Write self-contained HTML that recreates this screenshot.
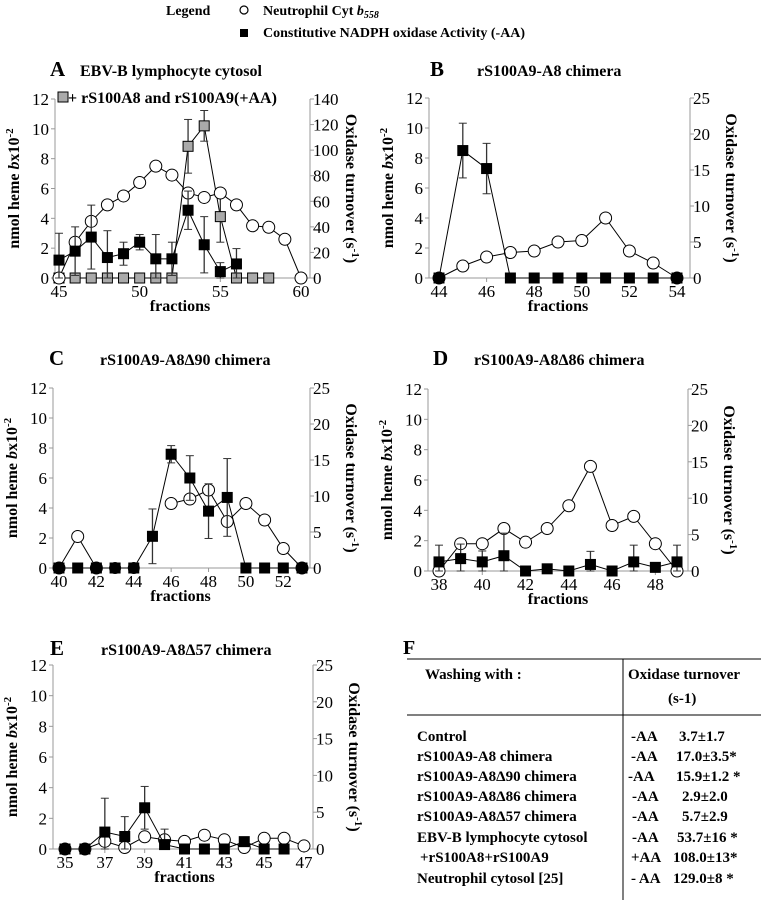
<!DOCTYPE html>
<html><head><meta charset="utf-8">
<style>
html,body{margin:0;padding:0;background:#fff;}
svg, svg text{font-family:"Liberation Serif","Times New Roman",serif;}
</style></head>
<body>
<svg id="fig" width="761" height="904" viewBox="0 0 761 904" font-family="Liberation Serif, serif">
<g>
<text x="166" y="15" font-size="14" font-weight="bold">Legend</text>
<circle cx="244" cy="10" r="4" fill="#fff" stroke="#000" stroke-width="1.2"/>
<text x="263" y="15" font-size="14" font-weight="bold">Neutrophil Cyt <tspan font-style="italic">b</tspan><tspan font-size="10" dy="3" font-style="italic">558</tspan></text>
<rect x="240" y="29" width="8" height="8" fill="#000"/>
<text x="263" y="37" font-size="14" font-weight="bold">Constitutive NADPH oxidase Activity  (-AA)</text>
</g>
<g font-size="15" font-weight="bold">
<text x="403" y="654" font-size="20">F</text>
<line x1="407" y1="659" x2="761" y2="659" stroke="#000" stroke-width="1"/>
<line x1="407" y1="715" x2="761" y2="715" stroke="#000" stroke-width="1"/>
<line x1="623" y1="659" x2="623" y2="900" stroke="#000" stroke-width="1"/>
<text x="425" y="679">Washing with :</text>
<text x="628" y="679">Oxidase turnover</text>
<text x="668" y="703">(s-1)</text>
<g>
<text x="417" y="741">Control</text>
<text x="417" y="761">rS100A9-A8 chimera</text>
<text x="417" y="781">rS100A9-A8Δ90 chimera</text>
<text x="417" y="801">rS100A9-A8Δ86 chimera</text>
<text x="417" y="821">rS100A9-A8Δ57 chimera</text>
<text x="417" y="842">EBV-B lymphocyte  cytosol</text>
<text x="420" y="862">+rS100A8+rS100A9</text>
<text x="417" y="883">Neutrophil cytosol [25]</text>
</g>
<g>
<text x="631" y="741">-AA</text><text x="679" y="741">3.7±1.7</text>
<text x="631" y="761">-AA</text><text x="676" y="761">17.0±3.5*</text>
<text x="628" y="781">-AA</text><text x="676" y="781">15.9±1.2 *</text>
<text x="632" y="801">-AA</text><text x="682" y="801">2.9±2.0</text>
<text x="632" y="821">-AA</text><text x="682" y="821">5.7±2.9</text>
<text x="632" y="842">-AA</text><text x="677" y="842">53.7±16 *</text>
<text x="631" y="862">+AA</text><text x="673" y="862">108.0±13*</text>
<text x="631" y="883">- AA</text><text x="673" y="883">129.0±8 *</text>
</g>
</g>
</svg>
<script>
// Panel A
const aFrac = [45,46,47,48,49,50,51,52,53,54,55,56,57,58,59,60];
const aCyt = [0,2.4,3.8,4.9,5.5,6.4,7.5,6.9,5.7,5.4,5.7,4.9,3.5,3.4,2.6,0];
const aSqFrac = [45,46,47,48,49,50,51,52,53,54,55,56];
const aSq = [14,21,32,16,19,28,15,15,53,26,5,11];
const aSqErr = [21,19,25,21,9,6,19,13,15,22,7,12];
const aGrayFrac = [45,46,47,48,49,50,51,52,53,54,55,56,57,58];
const aGray = [0,0,0,0,0,0,0,0,103,119,48,0,0,0];
const aGrayErr = [0,0,0,0,0,0,0,0,21,12,20,0,0,0];
const aXTicks = [45,50,55,60];
const aRTicks = [0,20,40,60,80,100,120,140];
// Panel B
const bFrac = [44,45,46,47,48,49,50,51,52,53,54];
const bCyt = [0,0.8,1.4,1.7,1.8,2.4,2.5,4.0,1.8,1.0,0];
const bSqFrac = [44,45,46,47,48,49,50,51,52,53,54];
const bSq = [0,17.7,15.2,0,0,0,0,0,0,0,0];
const bSqErr = [0,3.8,3.5,0,0,0,0,0,0,0,0];
const bDots = [44,54];
const bXTicks = [44,46,48,50,52,54];
// Panel C
const cFrac1 = [40,41,42];
const cCyt1 = [0,2.1,0];
const cFrac2 = [46,47,48,49,50,51,52,53];
const cCyt2 = [4.3,4.6,5.2,3.1,4.3,3.2,1.3,0];
const cSqFrac = [40,41,42,43,44,45,46,47,48,49,50,51,52,53];
const cSq = [0,0,0,0,0,4.4,15.8,12.5,7.9,9.8,0,0,0,0];
const cSqErr = [0,0,0,0,0,3.8,1.2,3.1,3.8,5.4,0,0,0,0];
const cDots = [40,42,43,44,53];
const cXTicks = [40,42,44,46,48,50,52];
// Panel D
const dFrac = [38,39,40,41,42,43,44,45,46,47,48,49];
const dCyt = [0,1.8,1.8,2.8,1.9,2.8,4.3,6.9,3.0,3.6,1.8,0];
const dSq = [1.25,1.7,1.25,2.1,0,0.3,0,0.9,0,1.25,0.5,1.25];
const dSqErr = [2.3,2.0,1.5,3.1,0,0,0,1.8,0,2.3,0.3,2.3];
const dXTicks = [38,40,42,44,46,48];
// Panel E
const eFrac = [35,36,37,38,39,40,41,42,43,44,45,46,47];
const eCyt = [0,0,0.5,0.1,0.8,0.6,0.5,0.9,0.6,0.1,0.7,0.7,0.2];
const eSqFrac = [35,36,37,38,39,40,41,42,43,44,45,46];
const eSq = [0,0,2.3,1.7,5.6,0.6,0,0,0,1.0,0,0];
const eSqErr = [0,0,4.6,2.7,2.9,2.1,0,0,0,0,0,0];
const eXTicks = [35,37,39,41,43,45,47];

const leftTicks = [0,2,4,6,8,10,12];
const r25Ticks = [0,5,10,15,20,25];
const NS = "http://www.w3.org/2000/svg";
const svg = document.getElementById('fig');
function mk(tag, attrs, parent){const e=document.createElementNS(NS,tag);for(const k in attrs)e.setAttribute(k,attrs[k]);(parent||svg).appendChild(e);return e;}

function panel(p){
  const g = mk('g',{});
  
  
  const sx = f => p.x0 + (f - p.xmin)/(p.xmax - p.xmin)*(p.x1 - p.x0);
  const sy = v => p.y0 - v/12*(p.y0 - p.y12);
  const sr = v => p.y0 - v/p.rmax*(p.y0 - p.y12);
  const lab = mk('text',{x:p.lx,y:p.ly,'font-size':21,'font-weight':'bold'},g); lab.textContent=p.id.toUpperCase();
  
  
  const tt = mk('text',{x:p.tx,y:p.ly,'font-size':16,'font-weight':'bold'},g); tt.textContent=p.title;
  
  
  mk('line',{x1:p.lax,y1:p.y12,x2:p.lax,y2:p.y0,stroke:'#999','stroke-width':1},g);
  mk('line',{x1:p.rax,y1:p.y12,x2:p.rax,y2:p.y0,stroke:'#999','stroke-width':1},g);
  mk('line',{x1:p.lax,y1:p.y0,x2:p.rax,y2:p.y0,stroke:'#999','stroke-width':1},g);
  leftTicks.forEach(t=>{
    const y=sy(t);
    mk('line',{x1:p.lax-4,y1:y,x2:p.lax,y2:y,stroke:'#999'},g);
    const tx=mk('text',{x:p.lax-6,y:y+6,'font-size':17,'text-anchor':'end'},g); tx.textContent=t;
    
    
  });
  p.rTicks.forEach(t=>{
    const y=sr(t);
    mk('line',{x1:p.rax,y1:y,x2:p.rax+4,y2:y,stroke:'#999'},g);
    const tx=mk('text',{x:p.rax+3,y:y+6,'font-size':17},g); tx.textContent=t;
    
    
  });
  p.xTicks.forEach(t=>{
    const x=sx(t);
    mk('line',{x1:x,y1:p.y0,x2:x,y2:p.y0+4,stroke:'#999'},g);
    const tx=mk('text',{x:x,y:p.y0+19,'font-size':17,'text-anchor':'middle'},g); tx.textContent=t;
    
    
  });
  const xt=mk('text',{x:(p.x0+p.x1)/2,y:p.y0+33,'font-size':16,'font-weight':'bold','text-anchor':'middle'},g); xt.textContent='fractions';
  
  
  const cy=(p.y0+p.y12)/2;
  const yl=mk('text',{x:0,y:0,'font-size':16,'font-weight':'bold','text-anchor':'middle',transform:`translate(${p.lax-36},${cy}) rotate(-90)`},g);
  yl.innerHTML='nmol heme <tspan font-style="italic">b</tspan>x10<tspan font-size="11" dy="-6">-2</tspan>';
  
  
  const yr=mk('text',{x:0,y:0,'font-size':16,'font-weight':'bold','text-anchor':'middle',transform:`translate(${p.rax+36},${cy}) rotate(90)`},g);
  yr.innerHTML='Oxidase turnover (s<tspan font-size="11" baseline-shift="super">-1</tspan>)';
  
  
  function sqSeries(fr, vals, errs, fill, name){
    mk('polyline',{points:fr.map((f,i)=>sx(f)+','+sr(vals[i])).join(' '),fill:'none',stroke:'#000','stroke-width':1},g);
    fr.forEach((f,i)=>{
      if(errs[i]>0){
        const x=sx(f), y1=sr(vals[i]+errs[i]), y2=sr(Math.max(0,vals[i]-errs[i]));
        mk('line',{x1:x,y1:y1,x2:x,y2:y2,stroke:'#333','stroke-width':1.3},g);
        mk('line',{x1:x-4,y1:y1,x2:x+4,y2:y1,stroke:'#333'},g);
        mk('line',{x1:x-4,y1:y2,x2:x+4,y2:y2,stroke:'#333'},g);
      }
    });
    fr.forEach((f,i)=>{
      const r=mk('rect',{x:sx(f)-5,y:sr(vals[i])-5,width:10,height:10,fill:fill,stroke:'#000','stroke-width':1},g);
      
      
    });
  }
  function cytSeries(fr, vals){
    mk('polyline',{points:fr.map((f,i)=>sx(f)+','+sy(vals[i])).join(' '),fill:'none',stroke:'#000','stroke-width':1},g);
    fr.forEach((f,i)=>{
      const c=mk('circle',{cx:sx(f),cy:sy(vals[i]),r:6,fill:'#fff',stroke:'#000','stroke-width':1},g);
      
      
    });
  }
  p.draw(sqSeries, cytSeries, sx, sy, sr, g);
  (p.dots||[]).forEach(f=>{
    const c=mk('circle',{cx:sx(f),cy:p.y0,r:6,fill:'#000'},g);
    
    
  });
}

panel({id:'a',title:'EBV-B lymphocyte  cytosol',lx:50,tx:80,ly:76,lax:55,rax:310,x0:59,x1:301,xmin:45,xmax:60,y0:278,y12:99,rmax:140,rTicks:aRTicks,xTicks:aXTicks,
  draw:(sq,cyt,sx,sy,sr,g)=>{
    sq(aGrayFrac,aGray,aGrayErr,'#aaa','rs100a8-a9-square');
    cyt(aFrac,aCyt);
    sq(aSqFrac,aSq,aSqErr,'#000','oxidase-square');
    const r=mk('rect',{x:58,y:92,width:10,height:10,fill:'#aaa',stroke:'#000'},g);
    
    
    const t=mk('text',{x:68,y:103,'font-size':16,'font-weight':'bold'},g); t.textContent='+ rS100A8 and rS100A9(+AA)';
    
    
  }});
panel({id:'b',title:'rS100A9-A8 chimera',lx:430,tx:477,ly:76,lax:429,rax:690,x0:439,x1:677,xmin:44,xmax:54,y0:278,y12:98,rmax:25,rTicks:r25Ticks,xTicks:bXTicks,dots:bDots,
  draw:(sq,cyt)=>{cyt(bFrac,bCyt);sq(bSqFrac,bSq,bSqErr,'#000','oxidase-square');}});
panel({id:'c',title:'rS100A9-A8Δ90 chimera',lx:49,tx:100,ly:365,lax:53,rax:310,x0:59,x1:302,xmin:40,xmax:53,y0:568,y12:388,rmax:25,rTicks:r25Ticks,xTicks:cXTicks,dots:cDots,
  draw:(sq,cyt)=>{cyt(cFrac1,cCyt1);cyt(cFrac2,cCyt2);sq(cSqFrac,cSq,cSqErr,'#000','oxidase-square');}});
panel({id:'d',title:'rS100A9-A8Δ86 chimera',lx:433,tx:474,ly:365,lax:428,rax:688,x0:439,x1:677,xmin:38,xmax:49,y0:571,y12:389,rmax:25,rTicks:r25Ticks,xTicks:dXTicks,
  draw:(sq,cyt)=>{cyt(dFrac,dCyt);sq(dFrac,dSq,dSqErr,'#000','oxidase-square');}});
panel({id:'e',title:'rS100A9-A8Δ57 chimera',lx:50,tx:101,ly:655,lax:53,rax:313,x0:65,x1:304,xmin:35,xmax:47,y0:849,y12:665,rmax:25,rTicks:r25Ticks,xTicks:eXTicks,
  draw:(sq,cyt)=>{cyt(eFrac,eCyt);sq(eSqFrac,eSq,eSqErr,'#000','oxidase-square');}});
</script>
</body></html>
